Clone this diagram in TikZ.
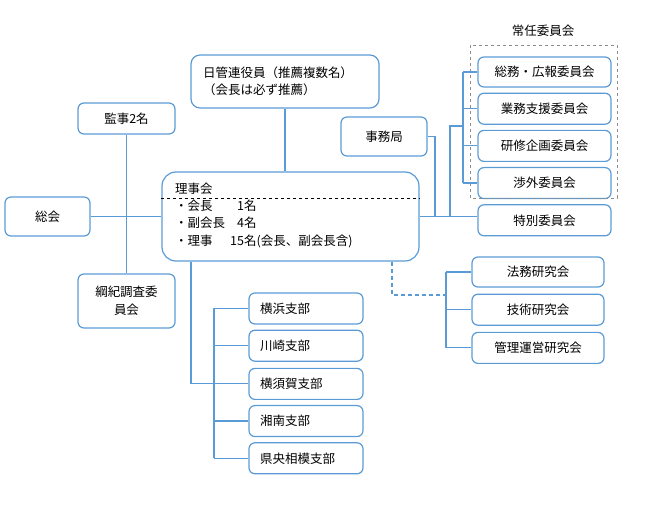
\documentclass[tikz,border=0pt]{standalone}
\usepackage{fontspec}
\setmainfont{Noto Sans CJK JP}
\usetikzlibrary{positioning}
\definecolor{orgblue}{HTML}{5B9BD5}
\definecolor{framegray}{HTML}{8C8C8C}
\begin{document}
\begin{tikzpicture}[x=1pt,y=-1pt,node distance=5pt and 5pt,
  every node/.style={font=\fontsize{12.5}{17.5}\selectfont},
  orgbox/.style={draw=orgblue,line width=1.2pt,rounded corners=6pt,minimum height=31pt,inner sep=0pt,align=center},
  branchbox/.style={orgbox,text width=92pt,inner xsep=11pt,align=left},
  link/.style={draw=orgblue,line width=1.2pt}]
  \useasboundingbox (0,0) rectangle (649,505);
  % left column
  \node[orgbox, minimum width=85pt, minimum height=39pt] (soukai) at (47.5,216.5) {総会};
  \node[orgbox, minimum width=97pt] (kansa) at (126.5,118.5) {監事2名};
  \node[orgbox, minimum width=97pt, minimum height=54pt] (kouki) at (126.5,301) {綱紀調査委\\員会};
  % centre
  \node[orgbox, minimum width=188pt, minimum height=53pt, rounded corners=9pt,
        text width=164pt, inner xsep=12pt, align=left] (nikkan) at (285,81.5)
        {日管連役員（推薦複数名）\\（会長は必ず推薦）};
  \node[orgbox, minimum width=86pt, minimum height=39pt] (jimu) at (384,136.5) {事務局};
  \node[orgbox, minimum width=257pt, minimum height=89pt, rounded corners=14pt] (rijikai) at (290.5,216.5) {};
  \node[anchor=west, inner sep=0pt] (rtitle) at (175,189) {理事会};
  \node[anchor=west, inner sep=0pt] (rlist) at (175,224.5)
    {\begin{tabular}{@{}l@{\hspace{5pt}}r@{}l@{}}
      ・会長 & 1 & 名\\
      ・副会長 & 4 & 名\\
      ・理事 & 15 & 名(会長、副会長含)
    \end{tabular}};
  \draw[dashed, line width=0.7pt] (rijikai.west |- 0,198) -- (rijikai.east |- 0,198);
  % standing committees
  \node[orgbox, minimum width=133pt, minimum height=30pt] (soumu) at (544.5,72) {総務・広報委員会};
  \node[orgbox, minimum width=133pt, below =of soumu] (gyoumu) {業務支援委員会};
  \node[orgbox, minimum width=133pt, below =of gyoumu] (kenshu) {研修企画委員会};
  \node[orgbox, minimum width=133pt, below =of kenshu] (shougai) {渉外委員会};
  \node[orgbox, minimum width=133pt, below =of shougai] (tokubetsu) {特別委員会};
  \draw[framegray, dashed, line width=0.6pt] (470,45) rectangle (617,198);
  \node (jounin) at (543,31) {常任委員会};
  % study groups
  \node[orgbox, minimum width=132pt, minimum height=30pt] (houmu) at (538,272) {法務研究会};
  \node[orgbox, minimum width=132pt, below =6pt of houmu] (gijutsu) {技術研究会};
  \node[orgbox, minimum width=132pt, below =6pt of gijutsu] (kanri) {管理運営研究会};
  % branches
  \node[branchbox] (yokohama) at (306,308.5) {横浜支部};
  \node[branchbox, below =of yokohama] (kawasaki) {川崎支部};
  \node[branchbox, below =6pt of kawasaki] (yokosuka) {横須賀支部};
  \node[branchbox, below =of yokosuka] (shounan) {湘南支部};
  \node[branchbox, below =of shounan] (kenou) {県央相模支部};
  % connectors
  \coordinate (jbus) at (435,0);
  \coordinate (sjoin) at (450,126);
  \coordinate (sbus) at (463,0);
  \coordinate (rsplit) at (392,295);
  \coordinate (rbus) at (446,0);
  \coordinate (bdrop) at (191,0);
  \coordinate (bbus) at (214,0);
  \draw[link] (soukai) -- (rijikai);
  \draw[link] (kansa) -- (kouki);
  \draw[link] (nikkan.south) -- (nikkan.south |- rijikai.north);
  \draw[link] (rijikai.east) -- (rijikai.east -| tokubetsu.west);
  \draw[link] (jimu.east) -| (jbus |- rijikai.east);
  \draw[link] (sjoin |- rijikai.east) -- (sjoin) -- (sjoin -| sbus);
  \draw[link] (soumu.west -| sbus) -- (shougai.west -| sbus);
  \foreach \c in {soumu,gyoumu,kenshu,shougai}
    \draw[link] (\c.west -| sbus) -- (\c.west);
  \draw[link, dash pattern=on 4pt off 3pt] (rsplit |- rijikai.south) -- (rsplit) -- (rsplit -| rbus);
  \draw[link] (houmu.west -| rbus) -- (kanri.west -| rbus);
  \foreach \c in {houmu,gijutsu,kanri}
    \draw[link] (\c.west -| rbus) -- (\c.west);
  \draw[link] (bdrop |- rijikai.south) |- (yokosuka.west);
  \draw[link] (yokohama.west -| bbus) -- (kenou.west -| bbus);
  \foreach \c in {yokohama,kawasaki,yokosuka,shounan,kenou}
    \draw[link] (\c.west -| bbus) -- (\c.west);
\end{tikzpicture}
\end{document}
